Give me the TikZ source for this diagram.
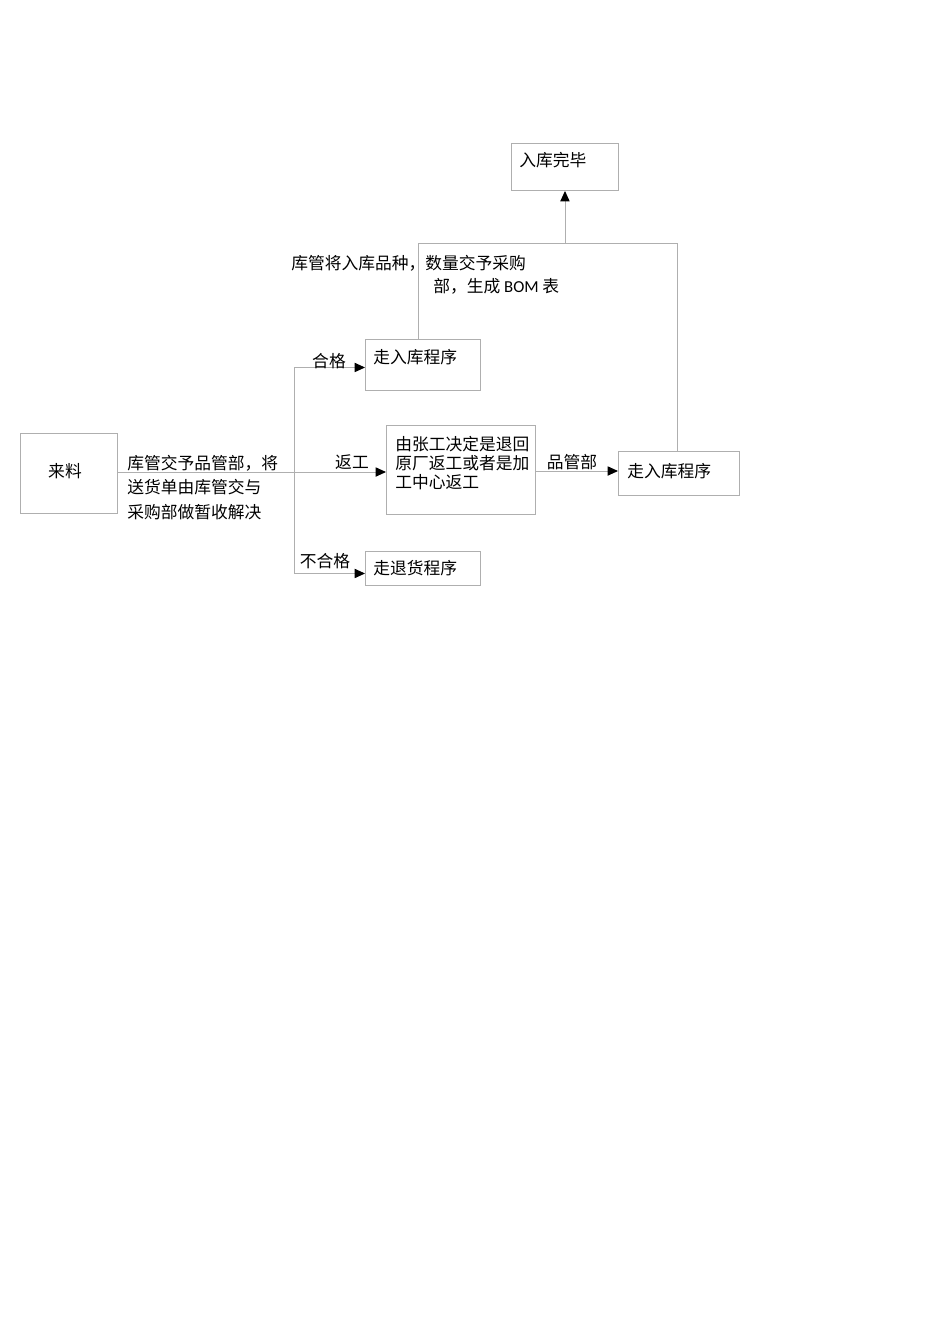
\documentclass[tikz,border=0pt]{standalone}
\usepackage{fontspec}
\setmainfont{Noto Sans CJK SC}
\newfontfamily\latinfont{Carlito}
\usetikzlibrary{arrows.meta,calc}
\definecolor{linegray}{RGB}{175,175,175}
\begin{document}
\begin{tikzpicture}[x=0.6266pt,y=-0.6266pt,
  bx/.style 2 args={draw=linegray,line width=0.6pt,anchor=north west,inner sep=0pt,
     minimum width=#1*0.6266pt,minimum height=#2*0.6266pt},
  txt/.style={font=\fontsize{10.5pt}{15.3pt}\selectfont,inner sep=0pt,text=black},
  conn/.style={draw=linegray,line width=0.6pt},
  arr/.style={conn,-{Triangle[length=6.5pt,width=5.8pt,color=black]}}]
\useasboundingbox (0,0) rectangle (950,1344);
% boxes
\node[bx={107}{47}] (done) at (511,143) {};
\node[bx={97}{80}] (lailiao) at (20,433) {};
\node[bx={115}{51}] (ok) at (365,339) {};
\node[bx={149}{89}] (rework) at (386,425) {};
\node[bx={121}{44}] (in2) at (618,451) {};
\node[bx={115}{34}] (rej) at (365,551) {};
% box texts
\node[txt,anchor=west] (tdone) at ($(done.north west)+(8,17)$) {入库完毕};
\node[txt] (tlai) at (65,471) {来料};
\node[txt,anchor=west] (tok) at ($(ok.north west)+(8,18)$) {走入库程序};
\node[txt,anchor=north west,align=left,font=\fontsize{10.5pt}{12.2pt}\selectfont] (trework) at ($(rework.north west)+(9,10.5)$) {由张工决定是退回\\原厂返工或者是加\\工中心返工};
\node[txt,anchor=west] (tin2) at ($(in2.north west)+(9,20)$) {走入库程序};
\node[txt,anchor=west] (trej) at ($(rej.north west)+(8,17)$) {走退货程序};
% connectors
\coordinate (sp) at (294,472);
\draw[arr] (lailiao.east |- sp) -- (rework.west |- sp);
\draw[arr] (sp) |- ($(ok.west)+(0,2.5)$);
\draw[arr] (sp) |- ($(rej.west)+(0,5)$);
\draw[arr] (rework.east |- 0,471) -- (in2.west |- 0,471);
\coordinate (jt) at (418,243);
\coordinate (jr) at (677,243);
\draw[conn] (ok.north -| jt) -- (jt) -- (jr) -- (in2.north -| jr);
\draw[arr] (done.south |- jt) -- (done.south);
% labels
\node[txt,anchor=north west,align=left,font=\fontsize{10.5pt}{15pt}\selectfont] (lbom) at (291,254.5) {库管将入库品种，数量交予采购\\\hspace*{89pt}部，生成 {\latinfont BOM} 表};
\node[txt,anchor=north west,align=left,font=\fontsize{10.5pt}{15.35pt}\selectfont] (lsend) at (127,454.5) {库管交予品管部，将\\送货单由库管交与\\采购部做暂收解决};
\node[txt] (lok) at (329,361) {合格};
\node[txt] (lre) at (352,462) {返工};
\node[txt] (lrej) at (325,561) {不合格};
\node[txt] (lqc) at (572,462) {品管部};
\end{tikzpicture}
\end{document}
